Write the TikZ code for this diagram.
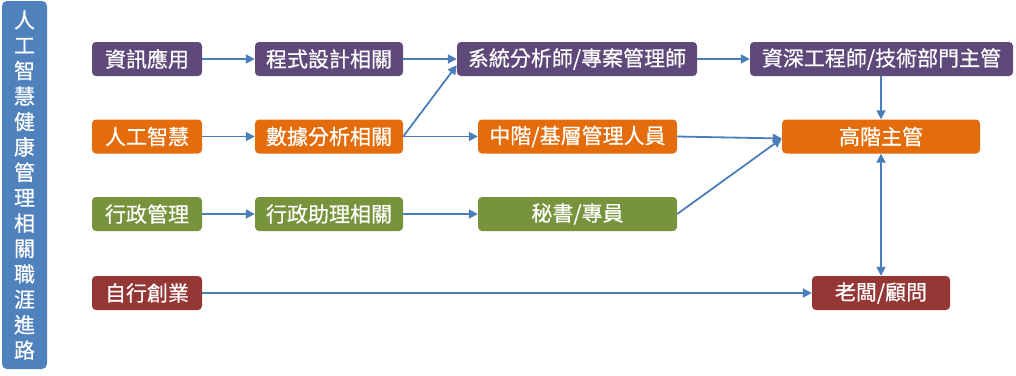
\documentclass[tikz,border=0pt]{standalone}
\usepackage{fontspec}
\newfontfamily\cjk[FakeBold=0.5]{Noto Sans CJK TC}
\usetikzlibrary{arrows.meta}
\definecolor{cpurple}{HTML}{5F497A}
\definecolor{corange}{HTML}{E46C0A}
\definecolor{cgreen}{HTML}{77933C}
\definecolor{cred}{HTML}{953735}
\definecolor{cblue}{HTML}{4F81BD}
\definecolor{carrow}{HTML}{4A7EBB}
\begin{document}
\begin{tikzpicture}[x=1pt,y=-1pt,
  box/.style={rounded corners=4pt, text=white, font=\cjk\fontsize{21}{21}\selectfont, inner sep=0pt, minimum height=34pt},
  arr/.style={draw=carrow, line width=1.8pt, -{Triangle[length=9pt,width=9pt]}},
  darr/.style={draw=carrow, line width=1.8pt, {Triangle[length=9pt,width=9pt]}-{Triangle[length=9pt,width=9pt]}},
]
\useasboundingbox (0,0) rectangle (1016,375);
% left bar
\node[fill=cblue, rounded corners=5pt, minimum width=45pt, minimum height=368pt, inner sep=0pt,
  text=white, align=center, font=\cjk\fontsize{21}{25.4}\selectfont] (bar) at (24.5,185)
  {人\\工\\智\\慧\\健\\康\\管\\理\\相\\關\\職\\涯\\進\\路};
% row 1
\node[box,fill=cpurple,minimum width=110pt] (a1) at (147,59) {資訊應用};
\node[box,fill=cpurple,minimum width=148pt] (a2) at (329,59) {程式設計相關};
\node[box,fill=cpurple,minimum width=240pt] (a3) at (577,59) {系統分析師/專案管理師};
\node[box,fill=cpurple,minimum width=263pt] (a4) at (881.5,59) {資深工程師/技術部門主管};
% row 2
\node[box,fill=corange,minimum width=110pt] (b1) at (147,136.5) {人工智慧};
\node[box,fill=corange,minimum width=148pt] (b2) at (329,136.5) {數據分析相關};
\node[box,fill=corange,minimum width=199pt] (b3) at (577.5,136.5) {中階/基層管理人員};
\node[box,fill=corange,minimum width=198pt] (b4) at (881,136.5) {高階主管};
% row 3
\node[box,fill=cgreen,minimum width=110pt] (c1) at (147,214) {行政管理};
\node[box,fill=cgreen,minimum width=148pt] (c2) at (329,214) {行政助理相關};
\node[box,fill=cgreen,minimum width=199pt] (c3) at (577.5,214) {秘書/專員};
% row 4
\node[box,fill=cred,minimum width=110pt] (d1) at (147,293) {自行創業};
\node[box,fill=cred,minimum width=138pt] (d2) at (881,293) {老闆/顧問};
% arrows
\draw[arr] (a1) -- (a2);
\draw[arr] (a2) -- (a3);
\draw[arr] (a3) -- (a4);
\draw[arr] (b1) -- (b2);
\draw[arr] (b2) -- (b3);
\draw[arr] (b2.east) -- ([yshift=11pt]a3.south west);
\draw[arr] (b4 |- a4.south) -- (b4.north);
\draw[arr] (b3.east) -- ([yshift=-2pt]b4.west);
\draw[arr] (c3.east) -- ([yshift=-2pt]b4.west);
\draw[arr] (c1) -- (c2);
\draw[arr] (c2) -- (c3);
\draw[arr] (d1) -- (d2);
\draw[darr] (b4.south) -- (d2.north);
\end{tikzpicture}
\end{document}
